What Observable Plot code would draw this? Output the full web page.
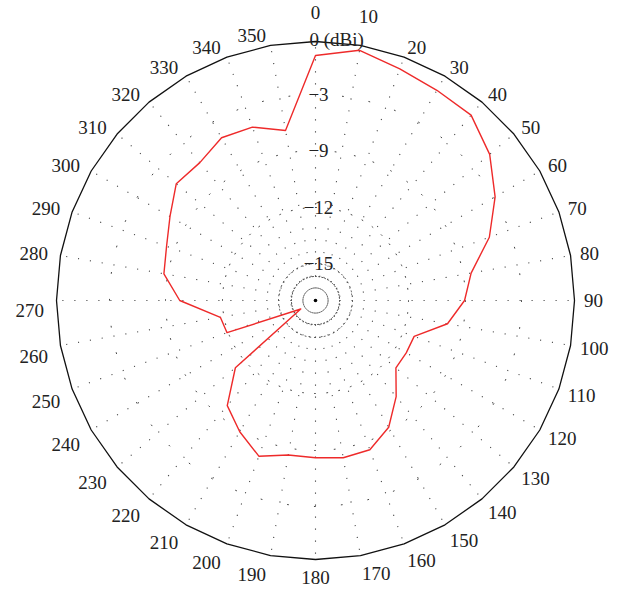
<!DOCTYPE html>
<html><head><meta charset="utf-8">
<script src="https://cdn.jsdelivr.net/npm/d3@7"></script>
<script src="https://cdn.jsdelivr.net/npm/@observablehq/plot@0.6"></script>
<style>body{margin:0;background:#fff}#chart{width:623px;height:590px}</style>
</head><body><div id="chart"></div>
<script>
// Angles (degrees, clockwise from top) and measured gain (dBi, as read against the ring labels)
const angles = [0,10,20,30,40,50,60,70,80,90,100,110,120,130,140,150,160,170,
                180,190,200,210,220,230,240,250,260,270,280,290,300,310,320,330,340,350];
const gain = [-0.79,-0.28,-0.71,-0.92,-0.96,-1.79,-2.92,-5.25,-8.14,-9.05,-9.84,-11.37,
              -11.38,-11.37,-10.29,-9.19,-8.05,-7.96,-8.22,-8.27,-7.32,-8.84,-9.67,-11.39,
              -16.08,-11.94,-11.81,-9.75,-8.58,-8.09,-7.07,-5.60,-5.79,-4.94,-5.30,-6.57];
const angleLabels = angles.map(String);
// Labelled radial rings (as printed on the chart) and unlabelled inner rings
const ringLevels = [-3, -9, -12, -15];
const ringLabels = ["−3", "−9", "−12", "−15"];
const outerLevel = 0;
const outerLabel = "0 (dBi)";
const minorRingLevels = [-16.32, -15.7];

// Radial scale: dB -> radius (piecewise, matching the printed ring spacing)
const rScale = d3.scaleLinear().domain([-17, -15, -12, -9, -3, 0]).range([0, 37, 93, 150, 206, 259]);
const rad = a => a * Math.PI / 180;
const px = (a, v) => rScale(v) * Math.sin(rad(a));
const py = (a, v) => rScale(v) * Math.cos(rad(a));

const pattern = angles.map((a, i) => ({a, g: gain[i]}));
const outerPoly = [...angles, 360].map(a => ({a, g: outerLevel}));
const circle = v => d3.range(0, 361, 2).map(a => ({a, g: v}));
const ringMark = v => {
  const c = 2 * Math.PI * rScale(v);
  const gap = Math.max(1.2, c / 48 - 1);
  return Plot.line(circle(v), {x: d => px(d.a, d.g), y: d => py(d.a, d.g),
    stroke: "#444", strokeWidth: 1, strokeDasharray: `1,${gap.toFixed(2)}`});
};

// Angle label placement (layout rules): anchored outside the outer ring,
// start-anchored on the right, end-anchored on the left, lower labels hang below.
const font = "Liberation Serif, Times New Roman, serif";
const fs = 19;
const labelR = 268.5;
const labelData = angles.map((a, i) => {
  const s = Math.sin(rad(a)), c = Math.cos(rad(a));
  let x = labelR * s, y = labelR * c;
  const side = (a === 0 || a === 180) ? "middle" : (a < 180 ? "start" : "end");
  if (side === "end") x -= 3;
  if (c < 0) y -= (side === "end" ? 10 : 9 * Math.abs(c));
  if (a === 0 || a === 10) { y += 19; if (a === 10) x -= 3; }
  return {x, y, t: angleLabels[i], side};
});
const labelMark = side => Plot.text(labelData.filter(d => d.side === side), {
  x: "x", y: "y", text: "t", textAnchor: side, fontSize: fs, fontFamily: font, fill: "#222"});

const chart = Plot.plot({
  width: 623, height: 590,
  margin: 0,
  x: {domain: [-315, 308], axis: null},
  y: {domain: [-290, 300], axis: null},
  style: {background: "#fff"},
  marks: [
    Plot.link(angles, {
      x1: a => px(a, minorRingLevels[1]), y1: a => py(a, minorRingLevels[1]),
      x2: a => px(a, outerLevel), y2: a => py(a, outerLevel),
      stroke: "#444", strokeWidth: 1.1, strokeDasharray: "1.1,10.9"
    }),
    ...minorRingLevels.map(ringMark),
    ...ringLevels.map(ringMark),
    Plot.line(outerPoly, {x: d => px(d.a, d.g), y: d => py(d.a, d.g), stroke: "#111", strokeWidth: 1.3}),
    Plot.line(pattern, {x: d => px(d.a, d.g), y: d => py(d.a, d.g), curve: "linear-closed",
      stroke: "#ee2a2a", strokeWidth: 1.4}),
    Plot.dot([outerLevel], {x: () => 0, y: () => 0, r: 1.8, fill: "#000", stroke: null}),
    Plot.text(ringLevels, {x: () => 0, y: v => rScale(v), text: (v, i) => ringLabels[i],
      dx: 3, fontSize: fs, fontFamily: font, fill: "#222"}),
    Plot.text([outerLevel], {x: () => 0, y: v => rScale(v), text: () => outerLabel,
      dx: -6, dy: -2, textAnchor: "start", fontSize: fs, fontFamily: font, fill: "#222"}),
    labelMark("start"), labelMark("end"), labelMark("middle")
  ]
});
document.getElementById("chart").appendChild(chart);
</script>
</body></html>
